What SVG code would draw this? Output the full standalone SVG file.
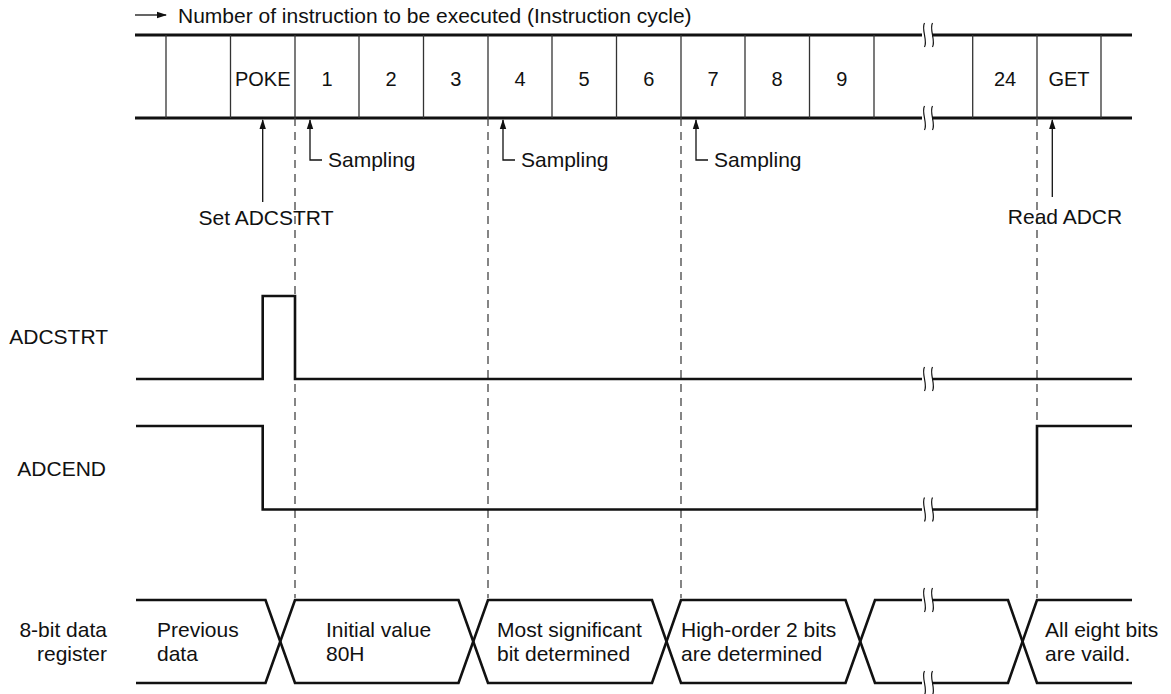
<svg xmlns="http://www.w3.org/2000/svg" width="1171" height="694" viewBox="0 0 1171 694">
<style>
text{font-family:"Liberation Sans",Arial,sans-serif;font-size:21px;fill:#111}
.cell{font-size:20px;text-anchor:middle}
.bus{stroke:#111;stroke-width:3;fill:none}
.sig{stroke:#111;stroke-width:2.6;fill:none}
.div{stroke:#333;stroke-width:1.3}
.dash{stroke:#444;stroke-width:1.3;stroke-dasharray:8 6;fill:none}
.thin{stroke:#111;stroke-width:1.3;fill:none}
.brk{stroke:#111;stroke-width:1.2;fill:none}
</style>
<defs>
<marker id="ah" markerWidth="10" markerHeight="8" refX="9" refY="4" orient="auto" markerUnits="userSpaceOnUse">
<path d="M0,0.8 L10,4 L0,7.2 Z" fill="#111"/>
</marker>
<g id="brk">
<rect x="-5" y="-4" width="10" height="8" fill="#fff"/>
<path class="brk" d="M-2.5,-12 C-6,-6 1,6 -2.5,12"/>
<path class="brk" d="M5.5,-12 C2,-6 9,6 5.5,12"/>
</g>
</defs>

<g id="title">
<line x1="135" y1="15" x2="166" y2="15" class="thin" marker-end="url(#ah)"/>
<text x="178" y="23">Number of instruction to be executed (Instruction cycle)</text>
</g>

<g id="instruction-bus">
<line x1="135" y1="35" x2="1132" y2="35" class="bus"/>
<line x1="135" y1="118" x2="1132" y2="118" class="bus"/>
<g class="div">
<line x1="166" y1="35" x2="166" y2="118"/>
<line x1="230.5" y1="35" x2="230.5" y2="118"/>
<line x1="295" y1="35" x2="295" y2="118"/>
<line x1="359" y1="35" x2="359" y2="118"/>
<line x1="423.5" y1="35" x2="423.5" y2="118"/>
<line x1="488" y1="35" x2="488" y2="118"/>
<line x1="552" y1="35" x2="552" y2="118"/>
<line x1="616.5" y1="35" x2="616.5" y2="118"/>
<line x1="681" y1="35" x2="681" y2="118"/>
<line x1="745" y1="35" x2="745" y2="118"/>
<line x1="809.5" y1="35" x2="809.5" y2="118"/>
<line x1="874" y1="35" x2="874" y2="118"/>
<line x1="972.7" y1="35" x2="972.7" y2="118"/>
<line x1="1037" y1="35" x2="1037" y2="118"/>
<line x1="1101" y1="35" x2="1101" y2="118"/>
</g>
<text class="cell" x="262.7" y="86">POKE</text>
<text class="cell" x="327" y="86">1</text>
<text class="cell" x="391" y="86">2</text>
<text class="cell" x="455.7" y="86">3</text>
<text class="cell" x="520" y="86">4</text>
<text class="cell" x="584" y="86">5</text>
<text class="cell" x="648.7" y="86">6</text>
<text class="cell" x="713" y="86">7</text>
<text class="cell" x="777" y="86">8</text>
<text class="cell" x="841.7" y="86">9</text>
<text class="cell" x="1005" y="86">24</text>
<text class="cell" x="1069" y="86">GET</text>
<use href="#brk" x="927" y="35"/>
<use href="#brk" x="927" y="118"/>
</g>

<g id="connectors">
<line x1="295" y1="118" x2="295" y2="598" class="dash"/>
<line x1="488" y1="118" x2="488" y2="598" class="dash"/>
<line x1="681" y1="118" x2="681" y2="598" class="dash"/>
<line x1="1037" y1="118" x2="1037" y2="598" class="dash"/>
<line x1="262.7" y1="202" x2="262.7" y2="120" class="thin" marker-end="url(#ah)"/>
<line x1="1052.3" y1="197" x2="1052.3" y2="120" class="thin" marker-end="url(#ah)"/>
<path d="M322,160 H310 V120" class="thin" marker-end="url(#ah)"/>
<path d="M515,160 H503 V120" class="thin" marker-end="url(#ah)"/>
<path d="M708,160 H696 V120" class="thin" marker-end="url(#ah)"/>
</g>

<g id="labels">
<text x="328" y="167">Sampling</text>
<text x="521" y="167">Sampling</text>
<text x="714" y="167">Sampling</text>
<text x="266" y="225" text-anchor="middle">Set ADCSTRT</text>
<text x="1065" y="224" text-anchor="middle">Read ADCR</text>
</g>

<g id="adcstrt">
<text x="108" y="344" text-anchor="end">ADCSTRT</text>
<path class="sig" d="M136,379 H262.7 V296 H295 V379 H1132"/>
<use href="#brk" x="927" y="379"/>
</g>

<g id="adcend">
<text x="106" y="476" text-anchor="end">ADCEND</text>
<path class="sig" d="M136,426 H262.7 V509.5 H1037 V426 H1132"/>
<use href="#brk" x="927" y="509.5"/>
</g>

<g id="data-register">
<text x="107" y="637" text-anchor="end">8-bit data</text>
<text x="107" y="661" text-anchor="end">register</text>
<path class="sig" d="M136,600 H265.5 L295,683 H458.5 L488,600 H652 L681,683 H845.5 L875,600 H1008 L1037,683 H1132"/>
<path class="sig" d="M136,683 H265.5 L295,600 H458.5 L488,683 H652 L681,600 H845.5 L875,683 H1008 L1037,600 H1132"/>
<use href="#brk" x="927" y="600"/>
<use href="#brk" x="927" y="683"/>
<text x="157" y="637">Previous</text>
<text x="157" y="661">data</text>
<text x="326" y="637">Initial value</text>
<text x="326" y="661">80H</text>
<text x="497" y="637">Most significant</text>
<text x="497" y="661">bit determined</text>
<text x="681" y="637">High-order 2 bits</text>
<text x="681" y="661">are determined</text>
<text x="1045" y="637">All eight bits</text>
<text x="1045" y="661">are vaild.</text>
</g>
</svg>
